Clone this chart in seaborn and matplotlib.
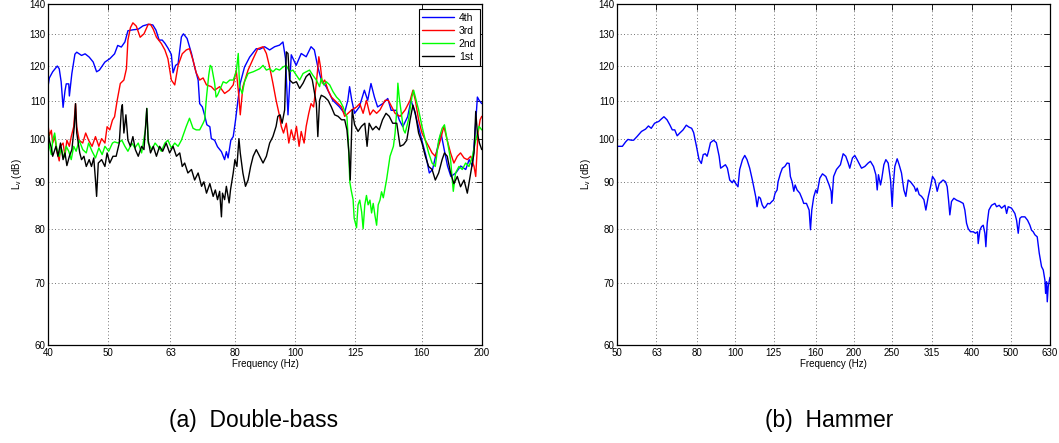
import matplotlib
matplotlib.use("Agg")
import matplotlib.pyplot as plt
from matplotlib.ticker import FixedLocator, FixedFormatter, NullLocator, NullFormatter
import pandas as pd
import seaborn as sns

# ---------------- Double-bass (a) ----------------
freq_4th = [40.0, 40.2, 40.7, 41.4, 41.7, 42.0, 42.3, 42.6, 42.8, 43.2, 43.3, 43.7, 44.2, 44.5, 45.3, 45.9,
            46.6, 47.3, 47.9, 48.4, 49.4, 50.3, 51.2, 51.8, 52.5, 53.2, 53.8, 54.8, 55.9, 56.9, 58.0, 59.0,
            59.7, 60.4, 61.1, 61.7, 62.4, 63.2, 63.6, 64.2, 64.8, 65.6, 66.1, 67.0, 68.1, 68.9, 69.8, 70.2,
            70.9, 71.5, 72.1, 72.9, 73.3, 74.2, 75.0, 76.1, 77.0, 77.5, 78.0, 78.8, 79.5, 80.2, 80.9, 81.6,
            82.9, 84.5, 86.6, 87.7, 89.3, 91.0, 92.7, 94.4, 95.6, 96.5, 97.4, 98.6, 100.4, 102.3, 104.2, 106.1,
            107.4, 108.8, 110.2, 112.2, 115.0, 117.9, 120.1, 121.6, 122.4, 123.4, 124.7, 126.9, 129.3, 130.9,
            132.5, 134.2, 135.8, 138.4, 141.0, 142.8, 145.5, 147.2, 149.1, 151.8, 153.7, 155.6, 158.5, 160.5,
            162.4, 164.5, 166.5, 169.7, 171.8, 173.9, 176.0, 178.2, 181.5, 184.8, 188.3, 190.7, 193.0, 194.9,
            196.6, 197.9, 199.8]
level_4th = [114, 116.5, 118.3, 120, 119.2, 115.4, 108.3, 112.8, 114.8, 114.8, 111.4, 117.8, 123.6, 124.2, 123.2, 123.7,
             122.7, 121.2, 118.3, 118.8, 121.2, 122.2, 123.7, 126.3, 125.8, 127.4, 131, 131.3, 131.5, 132.6, 133.1, 132.9,
             131.2, 128, 128, 127, 125.5, 123.5, 118, 120.2, 120.7, 129, 130, 128.5, 123.8, 119.7, 115.9, 109.3,
             108.4, 106.2, 103.7, 103.2, 100.2, 99.8, 98.2, 97.0, 95.1, 97, 95.5, 99.8, 100.7, 105, 110.2, 115,
             119.7, 122.7, 125.3, 125.1, 125.9, 124.9, 125.9, 126.4, 127.4, 122.3, 106.3, 123.4, 120.2, 123.8, 122.8, 125.9,
             124.9, 119.7, 115.9, 114, 110.2, 108.4, 106.7, 110.2, 114, 110.2, 106.7, 108.4, 113, 110.2,
             114.9, 111.1, 108.4, 109.3, 110.7, 107.5, 107.5, 104.9, 103.2, 105.8, 110.2, 107.5, 102.4, 99,
             96.1, 92, 92.8, 98.2, 101.6, 97.4, 93.6, 91.2, 92, 93.6, 92.8, 95.1, 93.6, 101.6,
             111.1, 110.2, 109.3]

freq_3rd = [40.0, 40.2, 40.5, 40.7, 41.0, 41.4, 41.7, 41.9, 42.3, 42.6, 42.9, 43.3, 43.6, 44.0, 44.3, 44.5,
            44.9, 45.5, 46.0, 46.5, 47.1, 47.7, 48.3, 48.8, 49.4, 49.8, 50.3, 50.8, 51.2, 51.7, 52.3, 53.0,
            53.5, 53.8, 54.3, 54.8, 55.5, 56.3, 57.1, 58.0, 58.5, 59.1, 59.8, 60.9, 61.7, 62.4, 63.2, 64.0,
            64.8, 65.8, 66.8, 67.6, 68.5, 69.3, 70.2, 71.1, 72.0, 73.3, 74.2, 75.6, 77.0, 78.3, 79.5, 80.4,
            81.2, 81.6, 82.4, 84.0, 85.6, 87.1, 88.8, 89.9, 91.0, 92.1, 93.2, 94.2, 95.0, 95.8, 96.8, 97.7,
            98.6, 99.6, 100.5, 101.5, 102.3, 103.4, 104.2, 105.2, 106.1, 107.1, 108.2, 109.2, 109.9, 110.6, 111.6,
            113.0, 114.4, 115.8, 117.3, 118.8, 120.2, 121.7, 123.3, 125.6, 127.1, 128.7, 130.3, 132.0, 133.6,
            135.3, 137.0, 139.6, 141.3, 143.1, 144.9, 147.6, 150.4, 153.2, 154.8, 156.2, 158.1, 160.1, 162.1,
            164.1, 166.2, 168.2, 171.4, 173.6, 175.8, 178.0, 180.2, 182.5, 184.7, 187.1, 189.4, 191.8, 194.2,
            195.4, 197.1, 198.6, 199.8]
level_3rd = [103.7, 101, 102.3, 99.1, 100.7, 96.7, 94.8, 98.3, 99.1, 96, 99.8, 98.3, 100.7, 103.2, 109.3, 103.2,
             99.8, 99.1, 101.6, 99.8, 98.3, 100.7, 98.3, 100.2, 99.1, 103.2, 102.4, 104.9, 105.8, 110.2, 114.9, 115.9,
             119.2, 128, 132, 133.6, 132.5, 128.9, 130, 133.1, 133.1, 131.5, 128.9, 126.9, 124.9, 122.2, 115.9, 114.5,
             120.2, 123.7, 124.9, 125.3, 121.7, 118, 115.9, 116.5, 114.5, 114, 113, 114, 112.1, 113, 114.5, 118.8,
             111.1, 106.3, 114, 118.8, 122.2, 125.3, 125.9, 123.8, 119.7, 115, 110.2, 106.7, 103.3, 101.6, 104.1, 99.1,
             102.4, 99.8, 103.3, 98.3, 102, 99.1, 103.3, 106.7, 109.3, 108.4, 115, 122.8, 119.7, 115, 115.9,
             113, 111.1, 110.2, 109.3, 108.4, 105.9, 106.7, 107.6, 108.4, 109.3, 106.7, 110.2, 106.3, 107.6,
             106.7, 107.6, 110.2, 110.2, 108.4, 106.7, 105.9, 107.6, 110.2, 113, 110.2, 105, 101.6, 99.8,
             98.3, 96.7, 95.9, 99.8, 103.3, 99.8, 96.7, 94.3, 95.9, 96.7, 95.5, 95.1, 95.9, 93.5,
             91.2, 101.6, 105, 105.9]

freq_2nd = [40.0, 40.2, 40.5, 40.7, 41.0, 41.3, 41.7, 42.0, 42.4, 42.8, 43.2, 43.6, 44.0, 44.4, 44.9, 45.5,
            46.1, 46.5, 47.1, 47.7, 48.3, 48.9, 49.4, 50.1, 50.8, 51.2, 51.9, 52.6, 53.2, 53.8, 54.6, 55.2,
            55.9, 56.6, 57.4, 57.7, 58.0, 58.8, 59.5, 60.1, 60.9, 61.7, 62.4, 63.2, 64.0, 64.8, 65.6, 66.8,
            67.6, 68.5, 69.3, 70.2, 71.1, 71.5, 72.0, 72.6, 73.0, 73.4, 74.2, 74.6, 75.0, 75.6, 76.6, 77.5,
            78.5, 79.5, 80.4, 81.0, 81.4, 82.2, 82.9, 84.0, 85.6, 87.7, 88.8, 89.9, 91.0, 92.1, 93.2, 94.4,
            95.6, 96.8, 98.0, 99.2, 100.5, 101.7, 103.0, 104.2, 105.5, 106.8, 108.2, 109.5, 110.2, 111.2, 112.3,
            113.7, 115.1, 116.6, 118.0, 119.5, 120.7, 121.2, 121.8, 122.5, 123.1, 124.0, 124.5, 125.6, 126.3,
            127.1, 128.0, 128.7, 129.5, 130.3, 131.1, 132.0, 132.8, 133.6, 134.5, 135.3, 136.1, 137.0, 137.8,
            138.7, 139.6, 140.4, 142.2, 144.0, 144.9, 145.8, 146.4, 147.1, 148.5, 149.5, 150.4, 152.3, 154.2,
            155.2, 156.2, 158.1, 160.1, 162.1, 164.1, 166.2, 168.2, 170.3, 172.5, 174.0, 175.8, 178.0, 179.8,
            181.3, 183.6, 185.9, 188.2, 190.6, 193.0, 195.4, 197.8, 199.8]
level_2nd = [103.7, 98.3, 96.3, 99.8, 101.6, 97.9, 95.9, 97.9, 95.5, 98.3, 97.1, 95.1, 98.3, 97.1, 99.8, 97.5,
             96.7, 99.1, 97.1, 95.5, 97.9, 96.3, 98.3, 97.1, 99.1, 99.4, 99.1, 99.8, 98.3, 97.1, 99.1, 97.9,
             99.1, 96.7, 102.4, 108, 99.1, 97.5, 99.1, 98.3, 97.1, 99.1, 99.8, 97.9, 99.1, 98.3, 99.8, 103.3,
             105.4, 102.8, 102.4, 102.4, 104.1, 105, 111.1, 117.3, 120.2, 119.7, 115, 111.1, 111.6, 113, 115.4, 115,
             115.9, 115.9, 118.3, 123.8, 114, 112.1, 115.4, 117.8, 118.3, 119.2, 120.2, 118.8, 119.2, 118.3, 119.2, 118.8,
             119.7, 120.2, 118.3, 118.8, 117.3, 115.9, 117.8, 118.3, 118.8, 117.3, 115.9, 114, 116.4, 114.5, 115.4,
             114.5, 112.6, 111.1, 110.2, 108.4, 106.3, 105.9, 99.8, 90, 88.2, 86.1, 82.2, 80.3, 85,
             86, 83.5, 80.1, 85, 87, 85, 86, 83.3, 85.3, 82.7, 80.8, 85, 86, 87.8,
             86.5, 88.6, 90.5, 95.9, 98.3, 101.6, 107.6, 115, 111.1, 105.9, 102.4, 101.6, 105, 111.1,
             113, 111.1, 107.6, 103.3, 99.8, 96.7, 94.3, 93.5, 99.8, 102.8, 103.7, 99.8, 95.1, 87.9,
             92, 93.5, 92.8, 94.3, 93.5, 95.9, 99.8, 103.3, 102.4]

freq_1st = [40.0, 40.2, 40.5, 40.7, 41.2, 41.5, 41.9, 42.3, 42.6, 42.9, 43.3, 43.7, 44.1, 44.3, 44.5, 45.0,
            45.3, 45.7, 46.1, 46.6, 47.0, 47.4, 47.7, 47.9, 48.2, 48.8, 49.4, 49.8, 50.3, 50.9, 51.5, 52.1,
            52.5, 52.7, 53.0, 53.4, 53.8, 54.3, 54.8, 55.3, 55.9, 56.6, 57.1, 57.7, 58.0, 58.5, 59.1, 59.8,
            60.5, 61.2, 62.0, 62.8, 63.6, 64.4, 65.2, 65.8, 66.4, 67.2, 68.1, 68.9, 69.8, 70.7, 71.3, 72.0,
            72.9, 73.8, 74.4, 75.0, 75.6, 76.1, 76.4, 77.0, 77.5, 78.3, 78.7, 79.5, 80.0, 80.6, 81.2, 81.6,
            82.4, 83.2, 84.0, 84.8, 85.6, 86.6, 87.7, 88.8, 89.9, 91.0, 92.1, 93.2, 93.8, 94.6, 95.3, 96.2,
            96.8, 97.4, 98.0, 99.2, 100.5, 101.7, 103.0, 104.2, 105.5, 106.6, 107.5, 108.2, 108.8, 109.5, 110.2,
            111.6, 113.0, 114.4, 115.8, 117.3, 118.8, 120.2, 121.2, 122.1, 122.7, 123.6, 124.7, 126.3, 127.9,
            129.5, 130.6, 131.6, 133.3, 135.0, 136.6, 138.3, 140.1, 141.8, 143.6, 145.8, 147.6, 149.5, 151.3,
            153.2, 154.8, 156.2, 158.1, 160.1, 162.1, 164.1, 166.2, 168.2, 170.3, 172.5, 174.0, 175.8, 178.0,
            180.2, 182.5, 184.7, 187.1, 189.4, 191.8, 194.2, 195.4, 196.6, 198.1, 199.8]
level_1st = [102.6, 99.8, 97.9, 95.9, 98.3, 95.9, 99.1, 95.1, 96.7, 93.7, 95.9, 97.5, 103.3, 109.3, 101.6, 96.7,
             95.1, 95.9, 93.5, 95.1, 93.5, 95.5, 90.4, 86.8, 94.3, 95.1, 93.5, 96.7, 94.3, 95.9, 95.9, 99.1,
             107.6, 109, 101.6, 106.3, 99.8, 98.3, 100.7, 97.5, 95.9, 98.3, 97.5, 108, 99.8, 96.7, 98.3, 95.9,
             98.3, 97.1, 99.1, 96.7, 98.3, 95.9, 96.7, 93.5, 94.3, 92, 92.8, 90.4, 92, 89, 90, 87.5,
             89.6, 86.8, 88.2, 86.1, 87.9, 82.5, 87.5, 86.1, 89, 85.4, 88.2, 92, 95.1, 93.5, 100.2, 96.7,
             92, 89, 90.4, 93.5, 95.9, 97.5, 95.9, 94.3, 95.9, 99.1, 100.7, 103.3, 105.9, 106.3, 104.1, 107.6,
             124.3, 123.8, 115.9, 115, 115.4, 113.5, 115, 116.9, 117.8, 115.9, 112.1, 109.3, 100.7, 110.2, 111.6,
             111.1, 110.2, 108.4, 106.3, 105.9, 105, 105, 102.4, 96.7, 90.4, 107.6, 103.7, 102, 103.3,
             104.1, 98.3, 104.1, 102.4, 103.3, 102.4, 105, 106.7, 105.9, 104.1, 104.1, 98.3, 98.7, 99.8,
             105, 108.9, 106.7, 101.6, 99.1, 95.9, 93.5, 92.8, 90.4, 92, 95.1, 96.7, 95.9, 92,
             89.6, 91.2, 88.9, 90.4, 87.5, 92, 96.7, 107.2, 101.6, 99.1, 97.5]

bass_labels = ["4th", "3rd", "2nd", "1st"]
bass_colors = ["#0000ff", "#ff0000", "#00ff00", "#000000"]

# ---------------- Hammer (b) ----------------
freq_hammer = [50.0, 51.6, 52.6, 53.3, 54.4, 55.1, 56.2, 57.7, 59.1, 60.1, 61.1, 62.3, 63.9, 64.8, 65.8, 67.0,
               68.1, 69.1, 70.1, 71.1, 72.2, 73.6, 75.0, 76.2, 77.4, 78.3, 79.6, 80.8, 81.9, 82.8, 83.8, 84.7,
               85.4, 86.4, 88.0, 89.4, 90.9, 91.7, 93.0, 94.3, 95.4, 96.7, 98.2, 99.0, 100.2, 101.5, 102.5, 104.2,
               105.6, 107.0, 108.7, 110.4, 111.7, 112.6, 113.5, 114.6, 115.7, 116.9, 118.2, 119.4, 120.8, 122.2,
               123.7, 124.9, 126.1, 127.6, 128.3, 130.1, 131.6, 133.5, 135.3, 136.9, 137.9, 139.3, 140.7, 141.8,
               143.4, 145.7, 148.0, 149.1, 151.5, 153.9, 155.1, 156.3, 158.1, 160.0, 161.3, 163.8, 166.4, 169.7,
               173.0, 175.0, 175.7, 177.6, 180.6, 184.8, 187.8, 190.7, 193.4, 195.2, 198.3, 201.0, 203.8, 209.1,
               213.2, 217.4, 220.3, 224.3, 227.4, 229.2, 230.9, 233.7, 235.5, 238.3, 241.1, 244.4, 247.8, 250.2,
               251.6, 254.1, 257.6, 260.6, 264.2, 267.9, 271.0, 274.7, 278.5, 284.7, 287.4, 289.6, 293.0, 297.1,
               301.2, 304.7, 308.9, 313.1, 316.8, 321.2, 325.6, 329.4, 333.3, 337.0, 341.9, 345.2, 347.9, 350.6,
               354.0, 358.9, 364.6, 371.8, 379.1, 382.8, 386.6, 390.4, 395.7, 402.0, 407.5, 412.3, 413.9, 418.0,
               421.9, 426.2, 430.4, 432.9, 436.3, 440.6, 447.5, 456.3, 460.9, 468.0, 474.6, 483.9, 488.8, 493.3,
               503.0, 512.9, 518.1, 523.1, 528.2, 533.4, 544.0, 552.5, 560.1, 565.6, 571.0, 576.7, 584.6, 591.5,
               599.6, 605.6, 611.5, 614.0, 617.6, 620.0, 623.5, 628.0, 630.0]
level_hammer = [98.3, 98.3, 99.4, 100, 99.8, 99.8, 100.7, 102, 102.6, 103.4, 102.8, 104.1, 104.6, 105.2, 105.8, 105,
                103.7, 102.4, 102.4, 100.9, 101.6, 102.4, 103.6, 103.1, 102.8, 101.7, 98.3, 95.1, 94.2, 96.3, 96.5, 95.9,
                97.1, 99.2, 99.8, 99.2, 95.9, 93.1, 93.5, 93.9, 93.1, 90.4, 89.8, 90.4, 89.6, 88.9, 92.8, 95.1,
                96.1, 95.1, 93.1, 90.4, 88.2, 86.7, 84.6, 86.7, 86.4, 85, 84.3, 84.6, 85.3, 85.2,
                85.7, 86, 87.5, 88.2, 90, 91.9, 93.1, 93.5, 94.3, 94.2, 91.2, 90, 87.9, 89.3,
                88.2, 87.5, 86.1, 85.3, 85.3, 83.9, 79.9, 83.9, 86.7, 88.2, 87.5, 90.8, 91.8, 91.2,
                89.3, 87.9, 85.3, 91.2, 92.8, 93.9, 96.5, 95.9, 94.3, 93.1, 95.5, 96.1, 95.1, 93.1,
                93.5, 94.3, 94.7, 93.5, 91.6, 88.2, 91.6, 89.3, 90.8, 93.9, 95.1, 94.3, 90.4, 84.6,
                88.9, 93.5, 95.3, 93.9, 92, 88.2, 86.8, 90.4, 90, 88.9, 87.9, 88.6, 87.2, 86.8,
                86.1, 83.9, 86.7, 88.9, 91.2, 90.4, 87.9, 89.6, 90, 90.4, 90, 88.9, 86.1, 82.9,
                85.7, 86.4, 86, 85.7, 85.3, 83.9, 81.2, 80.1, 79.5, 79.5, 79.2, 79.5, 77.2, 79.8,
                80.5, 80.8, 79.2, 76.6, 81.2, 83.9, 84.9, 85.3, 84.6, 84.9, 84.3, 84.9, 83.2, 84.6,
                84.3, 83.2, 81.8, 79.2, 82.2, 82.5, 82.5, 81.8, 80.8, 79.8, 79.5, 78.9, 78.5, 75.4,
                72.9, 72.3, 70.5, 68.2, 70.2, 66.8, 69.4, 70.5, 71.0]

y_ticks = [60, 70, 80, 90, 100, 110, 120, 130, 140]
bass_xticks = [40, 50, 63, 80, 100, 125, 160, 200]
hammer_xticks = [50, 63, 80, 100, 125, 160, 200, 250, 315, 400, 500, 630]

# ---------------- styling ----------------
sns.set_theme(style="white")
plt.rcParams['font.family'] = ['Liberation Sans', 'DejaVu Sans']
plt.rcParams['mathtext.fontset'] = 'custom'
plt.rcParams['mathtext.rm'] = 'Liberation Sans'
for key in ('text.color', 'axes.labelcolor', 'xtick.color', 'ytick.color'):
    plt.rcParams[key] = 'black'

W, H = 1059, 443
fig = plt.figure(figsize=(W / 100, H / 100), dpi=100)
ax1 = fig.add_axes([48 / W, 1 - 345 / H, 434 / W, 341 / H])
ax2 = fig.add_axes([617 / W, 1 - 345 / H, 433 / W, 341 / H])

for ax in (ax1, ax2):
    ax.set_xscale('log')
    ax.set_yscale('log')

df_bass = pd.concat([
    pd.DataFrame({'Frequency': freq_4th, 'Level': level_4th, 'String': '4th'}),
    pd.DataFrame({'Frequency': freq_3rd, 'Level': level_3rd, 'String': '3rd'}),
    pd.DataFrame({'Frequency': freq_2nd, 'Level': level_2nd, 'String': '2nd'}),
    pd.DataFrame({'Frequency': freq_1st, 'Level': level_1st, 'String': '1st'}),
], ignore_index=True)

sns.lineplot(data=df_bass, x='Frequency', y='Level', hue='String', hue_order=bass_labels,
             palette=bass_colors, estimator=None, sort=False, linewidth=1.0, ax=ax1)

df_ham = pd.DataFrame({'Frequency': freq_hammer, 'Level': level_hammer})
sns.lineplot(data=df_ham, x='Frequency', y='Level', color='#0000ff', estimator=None,
             sort=False, linewidth=1.0, ax=ax2)


def style_axis(ax, xticks, xlim):
    ax.set_xlim(*xlim)
    ax.set_ylim(60, 140)
    ax.xaxis.set_major_locator(FixedLocator(xticks))
    ax.xaxis.set_major_formatter(FixedFormatter([str(t) for t in xticks]))
    ax.xaxis.set_minor_locator(NullLocator())
    ax.xaxis.set_minor_formatter(NullFormatter())
    ax.yaxis.set_major_locator(FixedLocator(y_ticks))
    ax.yaxis.set_major_formatter(FixedFormatter([str(t) for t in y_ticks]))
    ax.yaxis.set_minor_locator(NullLocator())
    ax.yaxis.set_minor_formatter(NullFormatter())
    ax.grid(True, which='major', linestyle=(0, (1, 3)), color='#444444', linewidth=0.6)
    ax.tick_params(direction='in', top=True, right=True, length=4, width=0.6,
                   labelsize=7, pad=2, colors='black')
    for s in ax.spines.values():
        s.set_visible(True)
        s.set_color('black')
        s.set_linewidth(0.9)
    ax.set_xlabel('Frequency (Hz)', fontsize=7, labelpad=1, color='black')
    ax.set_ylabel(r'L$_\mathrm{v}$ (dB)', fontsize=7, labelpad=4, color='black')


style_axis(ax1, bass_xticks, (40, 200))
style_axis(ax2, hammer_xticks, (50, 630))

handles, labels = ax1.get_legend_handles_labels()
leg = ax1.legend(handles, labels, loc='upper right', fontsize=7.5, frameon=True, fancybox=False,
                 handlelength=3.0, handletextpad=0.5, borderpad=0.35, labelspacing=0.3,
                 borderaxespad=0.0, bbox_to_anchor=(0.995, 0.985))
leg.get_frame().set_edgecolor('black')
leg.get_frame().set_linewidth(0.8)
leg.get_frame().set_alpha(1.0)
for ln in leg.get_lines():
    ln.set_linewidth(1.0)
for t in leg.get_texts():
    t.set_color('black')

fig.text(254 / W, 1 - 421 / H, '(a)  Double-bass', ha='center', va='center', fontsize=16.5,
         color='black')
fig.text(829 / W, 1 - 421 / H, '(b)  Hammer', ha='center', va='center', fontsize=16.5,
         color='black')

fig.savefig('out.png', dpi=100)
